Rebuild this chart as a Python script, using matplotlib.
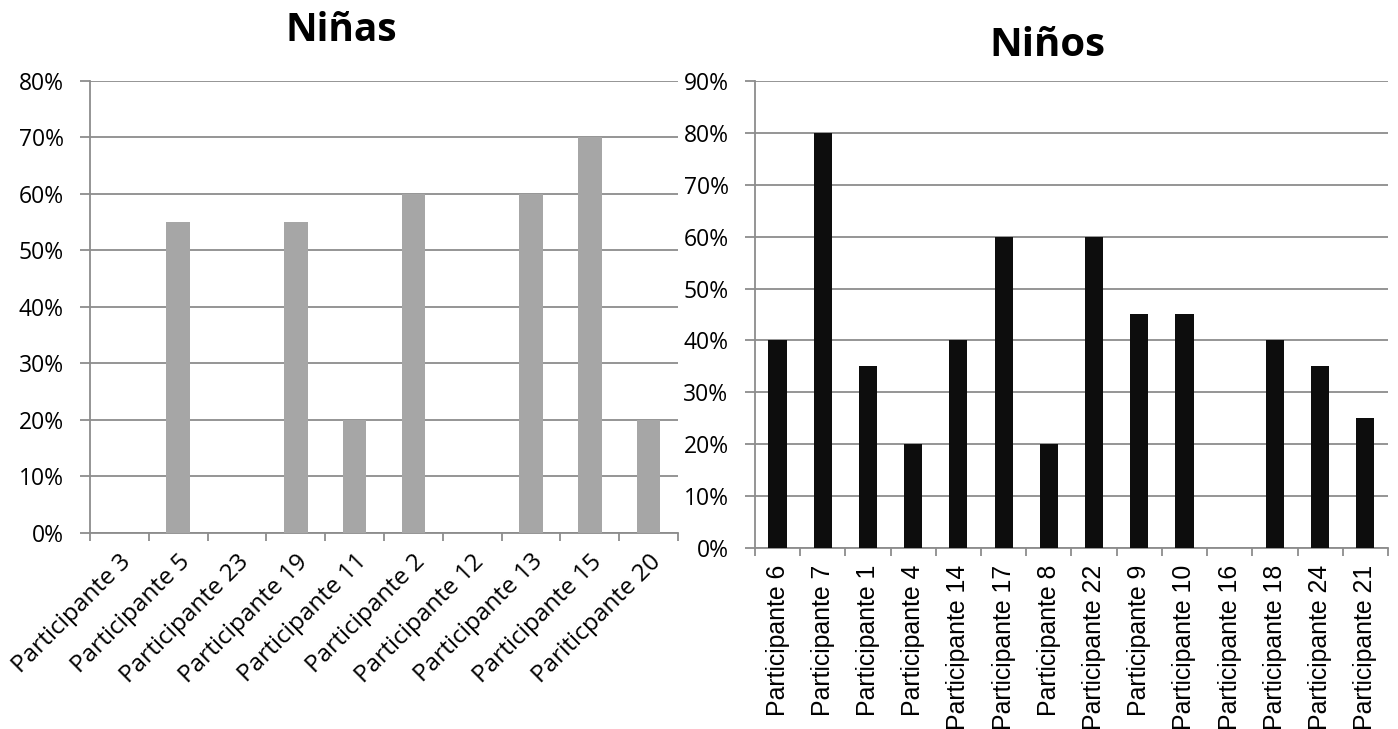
import matplotlib
matplotlib.use("Agg")
import matplotlib.pyplot as plt
from matplotlib.ticker import PercentFormatter, FixedLocator
import numpy as np

plt.rcParams['font.family'] = ['Open Sans', 'DejaVu Sans']

ninas_labels = ["Participante 3", "Participante 5", "Participante 23", "Participante 19",
                "Participante 11", "Participante 2", "Participante 12", "Participante 13",
                "Participante 15", "Pariticpante 20"]
ninas_values = [0, 55, 0, 55, 20, 60, 0, 60, 70, 20]

ninos_labels = ["Participante 6", "Participante 7", "Participante 1", "Participante 4",
                "Participante 14", "Participante 17", "Participante 8", "Participante 22",
                "Participante 9", "Participante 10", "Participante 16", "Participante 18",
                "Participante 24", "Participante 21"]
ninos_values = [40, 80, 35, 20, 40, 60, 20, 60, 45, 45, 0, 40, 35, 25]

GRID = "#8c8c8c"

fig = plt.figure(figsize=(13.98, 7.29), dpi=100)


def style_axes(ax, labels, values, ymax, color):
    n = len(labels)
    x = np.arange(n)
    ax.bar(x, np.array(values) / 100.0, width=0.4, color=color, zorder=3)
    ax.set_xlim(-0.5, n - 0.5)
    ax.set_ylim(0, ymax / 100.0)
    ax.set_yticks(np.arange(0, ymax + 1, 10) / 100.0)
    ax.yaxis.set_major_formatter(PercentFormatter(1.0, decimals=0))
    ax.yaxis.grid(True, color=GRID, linewidth=1.3, zorder=0)
    ax.set_xticks(x)
    ax.xaxis.set_minor_locator(FixedLocator(np.arange(-0.5, n, 1.0)))
    ax.tick_params(axis="x", which="major", length=0)
    ax.tick_params(axis="x", which="minor", length=6, width=1.3, color=GRID)
    ax.tick_params(axis="y", length=7, width=1.3, color=GRID, labelsize=16.5, pad=12)
    for side in ("top", "right"):
        ax.spines[side].set_visible(False)
    for side in ("left", "bottom"):
        ax.spines[side].set_color(GRID)
        ax.spines[side].set_linewidth(1.3)
    ax.set_axisbelow(True)


# Left panel: girls
ax1 = fig.add_axes([0.0644, 0.2689, 0.4206, 0.62])
style_axes(ax1, ninas_labels, ninas_values, 80, "#a6a6a6")
ax1.set_xticklabels(ninas_labels, rotation=45, ha="right", va="top",
                    rotation_mode="anchor", fontsize=17.6)
ax1.tick_params(axis="x", which="major", pad=12)
fig.text(0.244, 0.958, "Niñas", fontsize=28, fontweight="bold", ha="center", va="center")

# Right panel: boys
ax2 = fig.add_axes([0.540, 0.2483, 0.4528, 0.6406])
style_axes(ax2, ninos_labels, ninos_values, 90, "#0d0d0d")
ax2.set_xticklabels(ninos_labels, rotation=90, ha="center", va="top",
                    family=["Liberation Sans", "DejaVu Sans"], fontsize=17.9)
ax2.tick_params(axis="x", which="major", pad=12)
fig.text(0.749, 0.938, "Niños", fontsize=29, fontweight="bold", ha="center", va="center")

fig.savefig("out.png", dpi=100)
